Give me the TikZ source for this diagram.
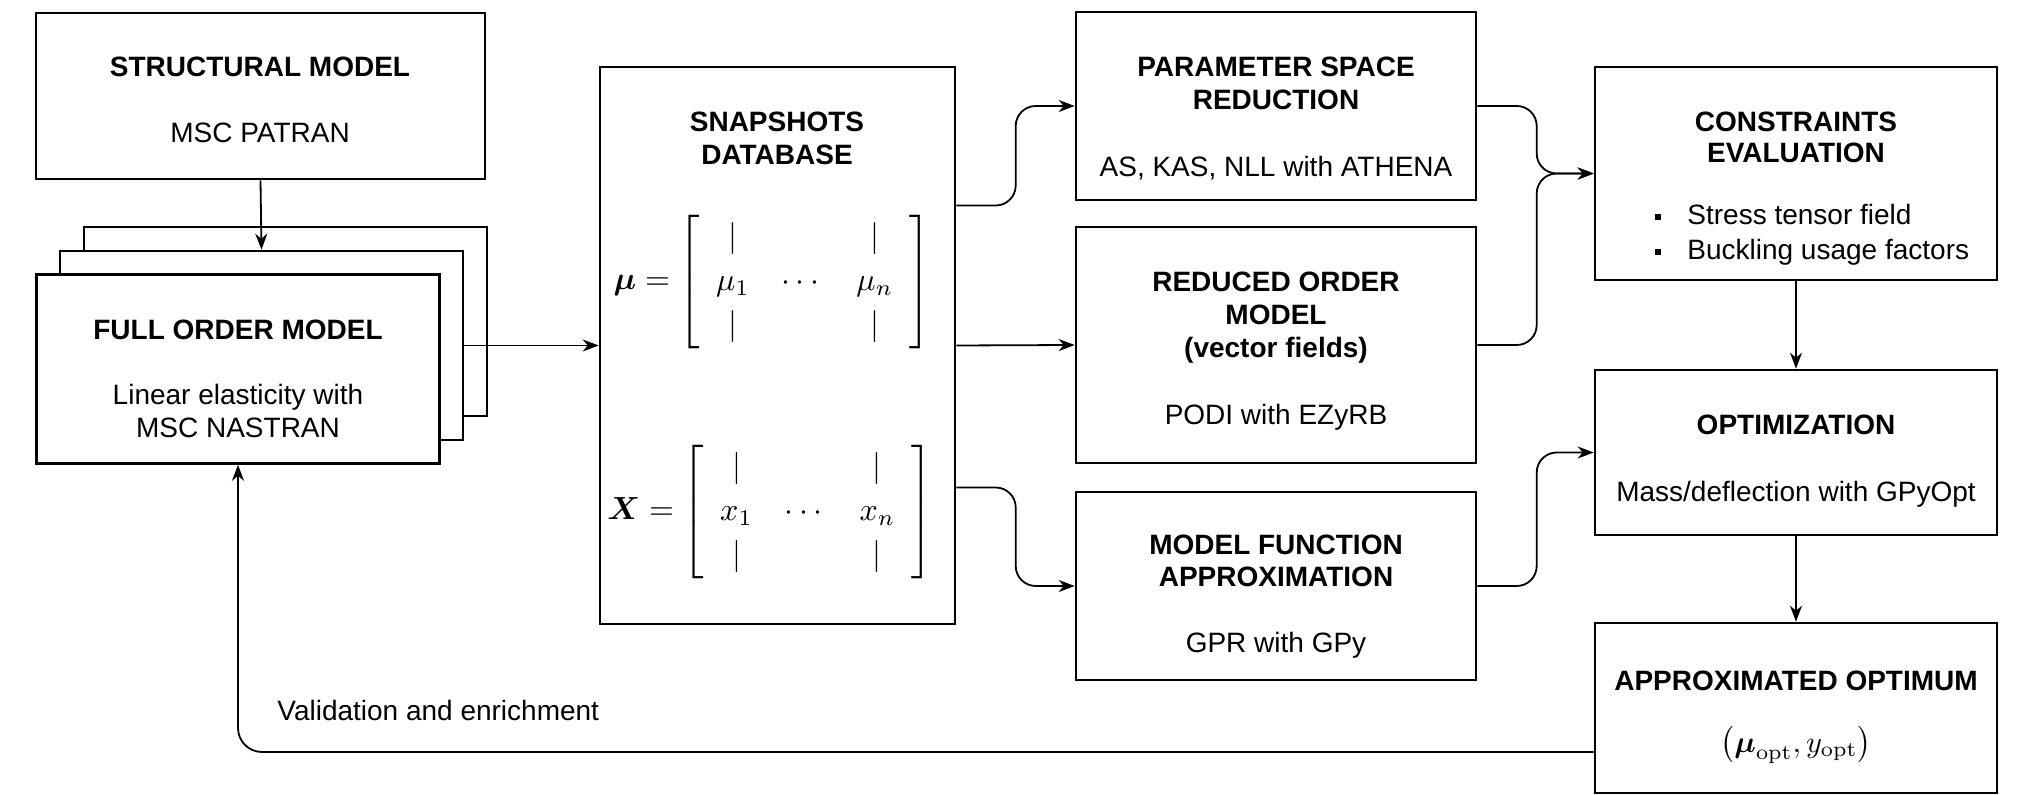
\documentclass[tikz,border=0pt]{standalone}
\usepackage{amsmath,amssymb}
\usepackage[no-math]{fontspec}
\setmainfont{Liberation Sans}
\usetikzlibrary{arrows.meta,calc}
\begin{document}
\begin{tikzpicture}[x=0.5pt,y=-0.5pt,
  box/.style={draw, line width=1.3pt, inner sep=0pt, fill=white},
  ttl/.style={font=\fontsize{14pt}{16pt}\selectfont\bfseries, anchor=base, inner sep=0pt},
  txt/.style={font=\fontsize{14pt}{16pt}\selectfont, anchor=base, inner sep=0pt},
  conn/.style={line width=0.9pt, -{Stealth[length=8pt,width=6pt,inset=2.5pt]}},
  mathtxt/.style={font=\fontsize{10pt}{12pt}\selectfont, inner sep=0pt, scale=1.6},
]
\useasboundingbox[fill=white] (0,0) rectangle (2033,795);

% boxes
\node[box, minimum width=224.5pt, minimum height=83pt] (struct) at (260.5,96) {};
\node[box, minimum width=201.5pt, minimum height=94.5pt] (fomback) at (285.5,321.5) {};
\node[box, minimum width=201.5pt, minimum height=94.5pt] (fommid) at (261.5,345.5) {};
\node[box, minimum width=201.5pt, minimum height=94.5pt] (fom) at (238,369) {};
\node[box, minimum width=177.5pt, minimum height=278.5pt] (snap) at (777.5,345.5) {};
\node[box, minimum width=200pt, minimum height=94pt] (param) at (1276,106) {};
\node[box, minimum width=200pt, minimum height=118pt] (rom) at (1276,345) {};
\node[box, minimum width=200pt, minimum height=94pt] (mfa) at (1276,586) {};
\node[box, minimum width=201pt, minimum height=106.5pt] (cons) at (1796,173.5) {};
\node[box, minimum width=201pt, minimum height=82.5pt] (opt) at (1796,452.5) {};
\node[box, minimum width=201pt, minimum height=85pt] (approx) at (1796,708) {};

% texts
\node[ttl] (t1) at (260,77) {STRUCTURAL MODEL};
\node[txt] (t2) at (260,143) {MSC PATRAN};
\node[ttl] (t3) at (238,340) {FULL ORDER MODEL};
\node[txt] (t4) at (238,405) {Linear elasticity with};
\node[txt] (t5) at (238,438) {MSC NASTRAN};

\node[ttl] (t6) at (777,132) {SNAPSHOTS};
\node[ttl] (t7) at (777,165) {DATABASE};
\node[mathtxt] (mumat) at (772,282) {$\renewcommand{\arraystretch}{1.15}\setlength{\arraycolsep}{5pt}\boldsymbol{\mu} = \left[\begin{array}{ccc} \vert & & \vert \\ \mu_1 & \cdots & \mu_n \\ \vert & & \vert \end{array}\right]$};
\node[mathtxt] (xmat) at (770,512) {$\renewcommand{\arraystretch}{1.15}\setlength{\arraycolsep}{5pt}\boldsymbol{X} = \left[\begin{array}{ccc} \vert & & \vert \\ x_1 & \cdots & x_n \\ \vert & & \vert \end{array}\right]$};

\node[ttl] (t8) at (1276,77) {PARAMETER SPACE};
\node[ttl] (t9) at (1276,110) {REDUCTION};
\node[txt] (t10) at (1276,177) {AS, KAS, NLL with ATHENA};

\node[ttl] (t11) at (1276,292) {REDUCED ORDER};
\node[ttl] (t12) at (1276,325) {MODEL};
\node[ttl] (t13) at (1276,358) {(vector fields)};
\node[txt] (t14) at (1276,425) {PODI with EZyRB};

\node[ttl] (t15) at (1276,555) {MODEL FUNCTION};
\node[ttl] (t16) at (1276,587) {APPROXIMATION};
\node[txt] (t17) at (1276,653) {GPR with GPy};

\node[ttl] (t18) at (1796,132) {CONSTRAINTS};
\node[ttl] (t19) at (1796,163) {EVALUATION};
\node[txt, anchor=base west] (t20) at (1655,225) {\rule[2.5pt]{3pt}{3pt}\hspace{13pt}Stress tensor field};
\node[txt, anchor=base west] (t21) at (1655,260) {\rule[2.5pt]{3pt}{3pt}\hspace{13pt}Buckling usage factors};

\node[ttl] (t22) at (1796,435) {OPTIMIZATION};
\node[txt] (t23) at (1796,502) {Mass/deflection with GPyOpt};

\node[ttl] (t24) at (1796,690) {APPROXIMATED OPTIMUM};
\node[mathtxt, scale=0.95] (t25) at (1796,745) {$\left(\boldsymbol{\mu}_{\mathrm{opt}}, y_{\mathrm{opt}}\right)$};

\node[txt, anchor=base west] (vlab) at (277,720) {Validation and enrichment};

% connectors
\draw[conn] (struct.south) -- (fommid.north);
\draw[conn] (fommid.east) -- (snap.west);
\draw[conn, rounded corners=10pt] ([yshift=70pt]snap.east) -| ([xshift=-29.5pt]param.west) -- (param.west);
\draw[conn] (snap.east) -- (rom.west);
\draw[conn, rounded corners=10pt] ([yshift=-71pt]snap.east) -| ([xshift=-29.5pt]mfa.west) -- (mfa.west);
\draw[conn, rounded corners=10pt] (param.east) -| ([xshift=-28.5pt]cons.west) -- (cons.west);
\draw[conn, rounded corners=10pt] (rom.east) -| ([xshift=-28.5pt]cons.west) -- (cons.west);
\draw[conn, rounded corners=10pt] (mfa.east) -| ([xshift=-28.5pt]opt.west) -- (opt.west);
\draw[conn] (cons.south) -- (opt.north);
\draw[conn] (opt.south) -- (approx.north);
\draw[conn, rounded corners=12pt] ([yshift=-22pt]approx.west) -| (fom.south);
\end{tikzpicture}
\end{document}
